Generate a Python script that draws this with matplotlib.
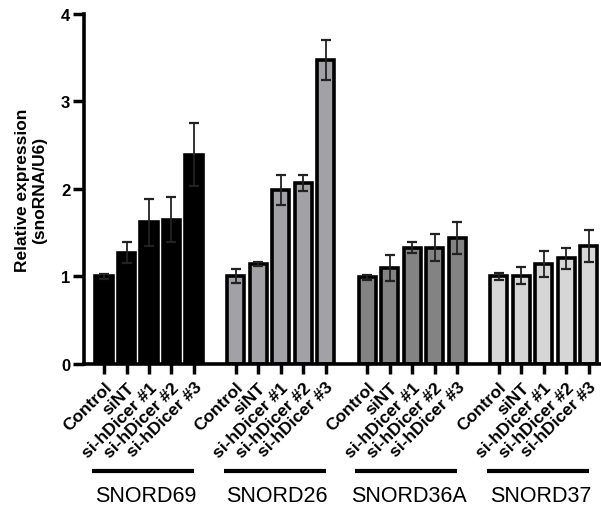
import numpy as np
import matplotlib.pyplot as plt

plt.rcParams['font.family'] = ['Liberation Sans', 'DejaVu Sans']

groups = ['SNORD69', 'SNORD26', 'SNORD36A', 'SNORD37']
conditions = ['Control', 'siNT', 'si-hDicer #1', 'si-hDicer #2', 'si-hDicer #3']
colors = ['#000000', '#a2a2a6', '#838383', '#d6d6d6']

means = [
    [1.00, 1.27, 1.62, 1.65, 2.39],
    [1.00, 1.14, 1.99, 2.07, 3.47],
    [0.99, 1.10, 1.33, 1.33, 1.44],
    [1.00, 1.01, 1.14, 1.21, 1.35],
]
errs = [
    [0.03, 0.12, 0.27, 0.26, 0.36],
    [0.08, 0.02, 0.17, 0.09, 0.23],
    [0.03, 0.15, 0.06, 0.15, 0.18],
    [0.04, 0.10, 0.15, 0.12, 0.18],
]

fig = plt.figure(figsize=(6.01, 5.06), dpi=100)
ax = fig.add_axes([0.1398, 0.2787, 0.858, 0.6917])

gstep = 5.85
xs_all = []
for g in range(len(groups)):
    x = g * gstep + np.arange(len(conditions))
    xs_all.extend(x)
    ax.bar(x, means[g], width=0.76, color=colors[g], edgecolor='black',
           linewidth=2.6, zorder=2)
    ax.errorbar(x, means[g], yerr=errs[g], fmt='none', ecolor='#222222',
                elinewidth=1.3, capsize=3.5, capthick=1.6, zorder=3)
    # group line and label
    ax.plot([x[0] - 0.52, x[-1] + 0.0], [-0.306, -0.306], transform=ax.get_xaxis_transform(),
            color='black', linewidth=3, clip_on=False, solid_capstyle='butt')
    ax.text((x[0] + x[-1]) / 2 - 0.15, -0.375, groups[g], transform=ax.get_xaxis_transform(),
            ha='center', va='center', fontsize=15.5)

ax.set_xlim(-0.89, 22.04)
ax.set_ylim(0, 4)
ax.set_yticks([0, 1, 2, 3, 4])
ax.set_xticks(xs_all)
ax.set_xticklabels(conditions * len(groups), rotation=45, ha='right',
                   rotation_mode='anchor', fontsize=12.5, fontweight='bold')
for lbl in ax.get_yticklabels():
    lbl.set_fontweight('bold')
ax.tick_params(axis='y', length=8, width=2.5, labelsize=12, pad=2)
ax.tick_params(axis='x', length=7, width=2.5, pad=4)
ax.spines['top'].set_visible(False)
ax.spines['right'].set_visible(False)
ax.spines['left'].set_linewidth(2.6)
ax.spines['bottom'].set_linewidth(2.6)
ax.set_ylabel('Relative expression\n(snoRNA/U6)', fontsize=12.5, fontweight='bold', labelpad=10)

fig.savefig('out.png', dpi=100)
